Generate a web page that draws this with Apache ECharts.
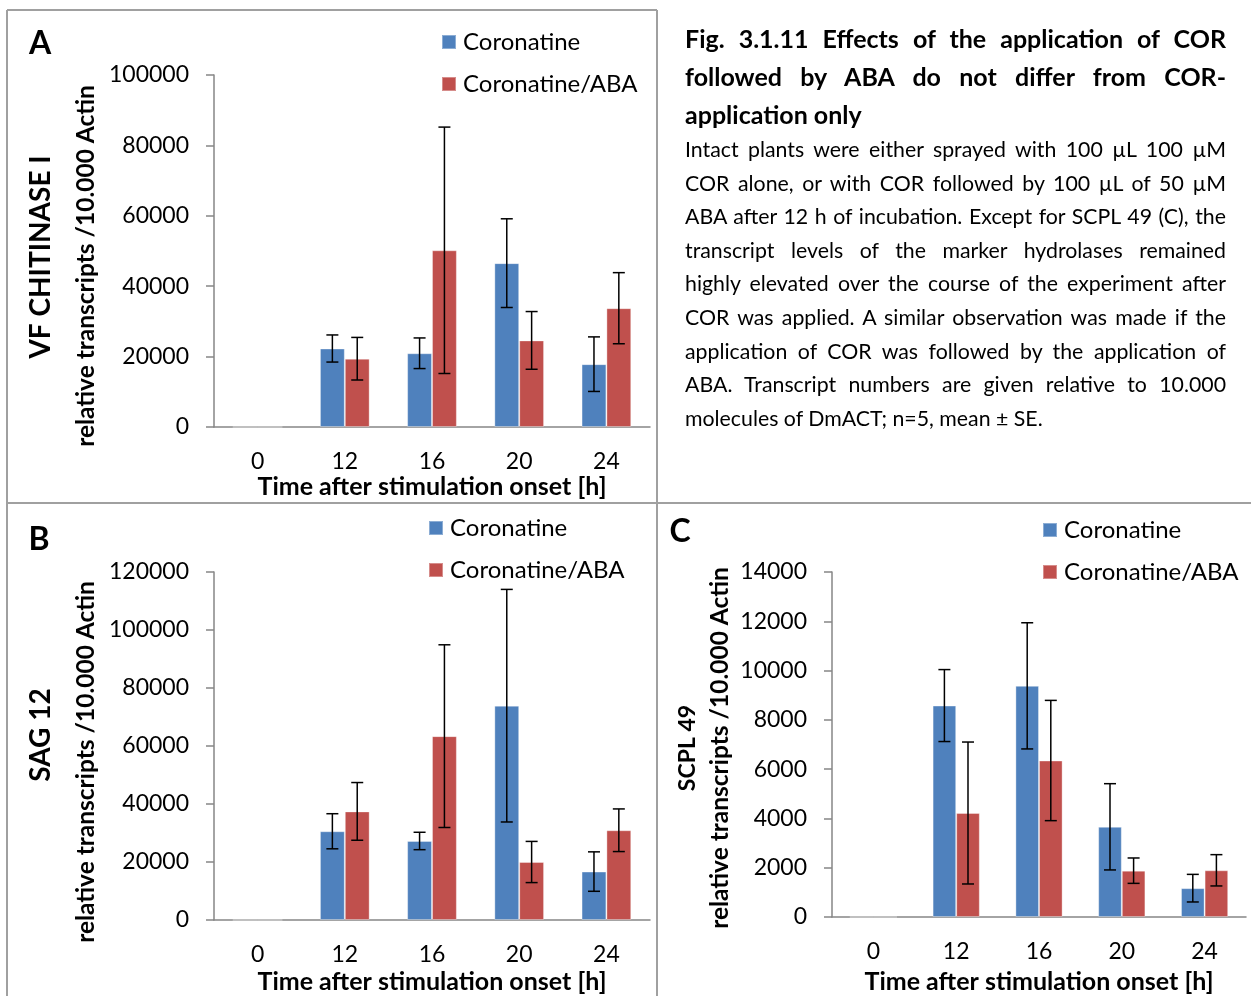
<!DOCTYPE html>
<html>
<head>
<meta charset="utf-8">
<script src="https://cdn.jsdelivr.net/npm/echarts@6/dist/echarts.min.js"></script>
<style>
html,body{margin:0;padding:0;background:#fff;}
#chart{position:absolute;left:0;top:0;width:1251px;height:996px;}
#caption{position:absolute;left:685px;top:19px;width:541px;font-family:Lato,'Open Sans',sans-serif;color:#000;}
#caption .t{font-weight:bold;font-size:25px;line-height:38px;text-align:justify;text-align-last:justify;white-space:nowrap;}
#caption .b{font-size:21.3px;line-height:33.6px;text-align:justify;text-align-last:justify;white-space:nowrap;}
#caption .last{text-align-last:left;}
</style>
</head>
<body>
<div id="chart"></div>
<div id="caption">
<div class="t">Fig. 3.1.11 Effects of the application of COR</div>
<div class="t">followed by ABA do not differ from COR-</div>
<div class="t last">application only</div>
<div class="b">Intact plants were either sprayed with 100 µL 100 µM</div>
<div class="b">COR alone, or with COR followed by 100 µL of 50 µM</div>
<div class="b">ABA after 12 h of incubation. Except for SCPL 49 (C), the</div>
<div class="b">transcript levels of the marker hydrolases remained</div>
<div class="b">highly elevated over the course of the experiment after</div>
<div class="b">COR was applied. A similar observation was made if the</div>
<div class="b">application of COR was followed by the application of</div>
<div class="b">ABA. Transcript numbers are given relative to 10.000</div>
<div class="b last">molecules of DmACT; n=5, mean ± SE.</div>
</div>
<script>
// ---- data ----
const categories = ['0', '12', '16', '20', '24'];
const seriesNames = ['Coronatine', 'Coronatine/ABA'];
const geneNames = ['VF CHITINASE I', 'SAG 12', 'SCPL 49'];
const panelLetters = ['A', 'B', 'C'];
const yTitle = 'relative transcripts /10.000 Actin';
const xTitle = 'Time after stimulation onset [h]';

const chitCor   = [0, 22300, 20950, 46550, 17850];
const chitCorSE = [0, 3850, 4350, 12600, 7750];
const chitAba   = [0, 19400, 50200, 24600, 33750];
const chitAbaSE = [0, 6050, 35000, 8200, 10100];

const sagCor   = [0, 30600, 27250, 73900, 16700];
const sagCorSE = [0, 6050, 3000, 40100, 6800];
const sagAba   = [0, 37450, 63400, 20000, 30950];
const sagAbaSE = [0, 9950, 31500, 7100, 7350];

const scplCor   = [0, 8580, 9380, 3660, 1170];
const scplCorSE = [0, 1460, 2560, 1750, 560];
const scplAba   = [0, 4220, 6350, 1880, 1895];
const scplAbaSE = [0, 2880, 2440, 515, 635];

const yMax = [100000, 120000, 14000];
const yInterval = [20000, 20000, 2000];

// ---- styling / layout ----
const FONT = 'Lato';
const BLUE = '#4F81BD', RED = '#C0504D', AXIS = '#868686';
const GAP = 0.43;
const grids = [
  {left: 214, top: 75, width: 436, height: 352},
  {left: 214, top: 572, width: 436, height: 348},
  {left: 832, top: 572, width: 414, height: 345}
];
const xNameGaps = [47, 49, 52];
const panels = [
  {cor: chitCor, corSE: chitCorSE, aba: chitAba, abaSE: chitAbaSE},
  {cor: sagCor, corSE: sagCorSE, aba: sagAba, abaSE: sagAbaSE},
  {cor: scplCor, corSE: scplCorSE, aba: scplAba, abaSE: scplAbaSE}
];

function errData(mean, se) {
  return mean.map((m, i) => [i, m - se[i], m + se[i]]);
}
function makeErr(side) {
  return function (params, api) {
    const i = api.value(0), lo = api.value(1), hi = api.value(2);
    if (!(hi - lo > 0)) return null;
    const band = api.size([1, 0])[0];
    const bw = band * (1 - GAP) / 2;
    const p1 = api.coord([i, lo]);
    const p2 = api.coord([i, hi]);
    const x = p1[0] + side * bw / 2;
    const c = 6;
    const st = {stroke: '#000', lineWidth: 1.5};
    return {type: 'group', children: [
      {type: 'line', shape: {x1: x, y1: p1[1], x2: x, y2: p2[1]}, style: st},
      {type: 'line', shape: {x1: x - c, y1: p1[1], x2: x + c, y2: p1[1]}, style: st},
      {type: 'line', shape: {x1: x - c, y1: p2[1], x2: x + c, y2: p2[1]}, style: st}
    ]};
  };
}

const xAxes = [], yAxes = [], series = [];
panels.forEach((p, k) => {
  xAxes.push({
    gridIndex: k, type: 'category', data: categories, boundaryGap: true,
    axisLine: {lineStyle: {color: AXIS, width: 1.5}},
    axisTick: {length: 9, lineStyle: {color: AXIS, width: 1.5}},
    axisLabel: {fontSize: 23, fontFamily: FONT, color: '#000', margin: 23},
    name: xTitle, nameLocation: 'middle', nameGap: xNameGaps[k],
    nameTextStyle: {fontSize: 25, fontFamily: FONT, fontWeight: 'bold', color: '#000'}
  });
  yAxes.push({
    gridIndex: k, type: 'value', min: 0, max: yMax[k], interval: yInterval[k],
    axisLine: {show: true, lineStyle: {color: AXIS, width: 1.5}},
    axisTick: {show: true, length: 8, lineStyle: {color: AXIS, width: 1.5}},
    splitLine: {show: false},
    axisLabel: {fontSize: 23, fontFamily: FONT, color: '#000', margin: 25,
                formatter: v => String(v)}
  });
  series.push({
    name: seriesNames[0], type: 'bar', xAxisIndex: k, yAxisIndex: k, data: p.cor,
    barCategoryGap: (GAP * 100) + '%', barGap: '0%',
    itemStyle: {color: BLUE, borderColor: 'rgba(255,255,255,0.35)', borderWidth: 1}
  });
  series.push({
    name: seriesNames[1], type: 'bar', xAxisIndex: k, yAxisIndex: k, data: p.aba,
    barCategoryGap: (GAP * 100) + '%', barGap: '0%',
    itemStyle: {color: RED, borderColor: 'rgba(255,255,255,0.35)', borderWidth: 1}
  });
  series.push({
    name: seriesNames[0], type: 'custom', xAxisIndex: k, yAxisIndex: k, z: 5,
    renderItem: makeErr(-1), data: errData(p.cor, p.corSE), encode: {x: 0, y: [1, 2]}
  });
  series.push({
    name: seriesNames[1], type: 'custom', xAxisIndex: k, yAxisIndex: k, z: 5,
    renderItem: makeErr(1), data: errData(p.aba, p.abaSE), encode: {x: 0, y: [1, 2]}
  });
});

const legendPos = [{left: 441, top: 30}, {left: 428, top: 516}, {left: 1042, top: 518}];
const legends = legendPos.map(lp => ({
  left: lp.left, top: lp.top, orient: 'vertical', padding: 0,
  itemWidth: 14, itemHeight: 14, itemGap: 18, icon: 'rect',
  data: seriesNames,
  textStyle: {fontSize: 24, fontFamily: FONT, color: '#000', padding: [0, 0, 0, 2]}
}));

const BORDER = {stroke: '#a0a0a0', lineWidth: 2};
const textEl = (txt, x, y, size, rot) => ({
  type: 'text', x: x, y: y, rotation: rot || 0,
  style: {text: txt, fontSize: size, fontFamily: FONT, fontWeight: 'bold', fill: '#000',
          align: 'center', verticalAlign: 'middle'}
});
const graphic = [
  {type: 'line', shape: {x1: 7, y1: 10, x2: 657, y2: 10}, style: BORDER},
  {type: 'line', shape: {x1: 7, y1: 10, x2: 7, y2: 996}, style: BORDER},
  {type: 'line', shape: {x1: 657, y1: 10, x2: 657, y2: 503}, style: BORDER},
  {type: 'line', shape: {x1: 7, y1: 503, x2: 1251, y2: 503}, style: BORDER},
  {type: 'line', shape: {x1: 657, y1: 503, x2: 657, y2: 996}, style: BORDER},
  textEl(panelLetters[0], 40, 44, 32),
  textEl(panelLetters[1], 39, 540, 32),
  textEl(panelLetters[2], 680, 532, 32),
  textEl(geneNames[0], 41, 257, 28, Math.PI / 2),
  textEl(geneNames[1], 41, 735, 28, Math.PI / 2),
  textEl(geneNames[2], 688, 748, 23, Math.PI / 2),
  textEl(yTitle, 86, 266, 24.5, Math.PI / 2),
  textEl(yTitle, 86, 762, 24.5, Math.PI / 2),
  textEl(yTitle, 720, 748, 24.5, Math.PI / 2)
];

const chart = echarts.init(document.getElementById('chart'));
chart.setOption({
  animation: false,
  backgroundColor: '#fff',
  grid: grids,
  xAxis: xAxes,
  yAxis: yAxes,
  legend: legends,
  series: series,
  graphic: graphic
});
</script>
</body>
</html>
